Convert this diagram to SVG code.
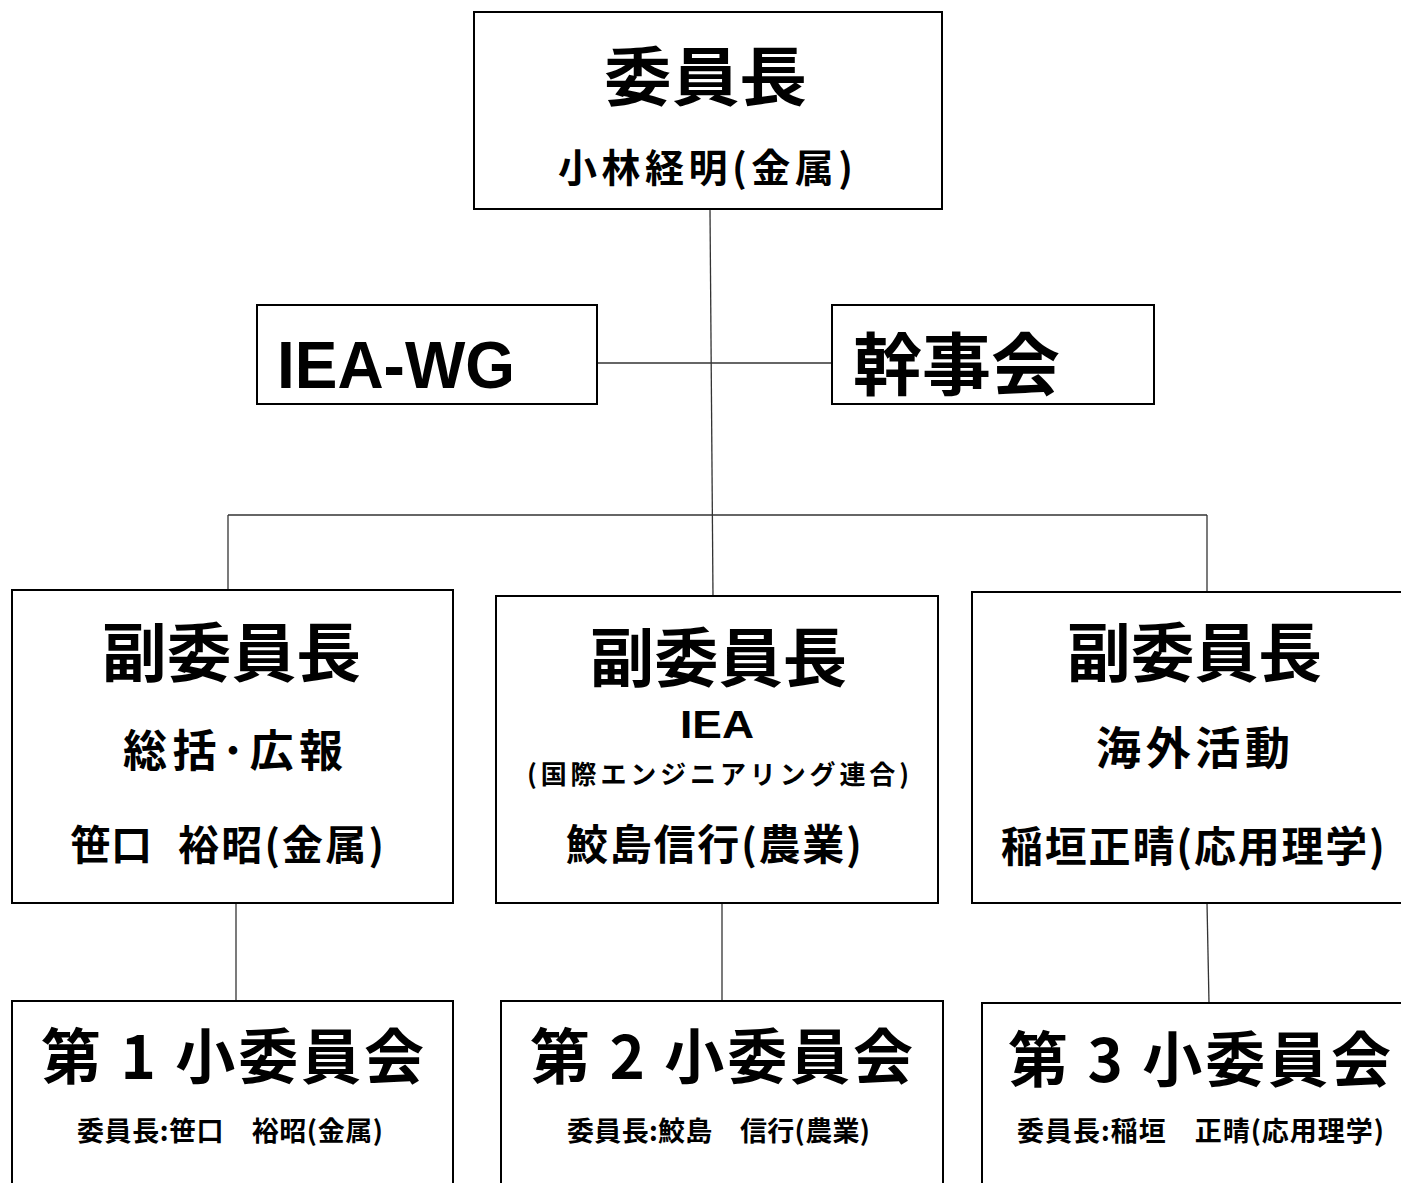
<svg xmlns="http://www.w3.org/2000/svg" width="1401" height="1183" viewBox="0 0 1401 1183">
<style>
.box{fill:#fff;stroke:#000;stroke-width:2}
.con{stroke:#333;stroke-width:1.3;fill:none}
.j{font-family:"Noto Sans CJK JP","Noto Sans CJK SC",sans-serif;font-weight:700;fill:#000}
.l{font-family:"Liberation Sans",Arial,sans-serif;font-weight:700;fill:#000}
</style>
<rect width="1401" height="1183" fill="#fff"/>
<g id="connectors">
<line class="con" x1="710" y1="210" x2="713" y2="596"/>
<line class="con" x1="597" y1="363" x2="832" y2="363"/>
<line class="con" x1="228" y1="515" x2="1207" y2="515"/>
<line class="con" x1="228" y1="515" x2="228" y2="590"/>
<line class="con" x1="1207" y1="515" x2="1207" y2="592"/>
<line class="con" x1="236" y1="903" x2="236" y2="1001"/>
<line class="con" x1="722" y1="898" x2="722" y2="1001"/>
<line class="con" x1="1207" y1="903" x2="1209" y2="1003"/>
</g>
<g id="chair">
<rect class="box" x="474" y="12" width="468" height="197"/>
<text class="j" x="604" y="100" font-size="64" textLength="203" lengthAdjust="spacingAndGlyphs">委員長</text>
<text class="j" x="558" y="182" font-size="39" textLength="295" lengthAdjust="spacing">小林経明(金属)</text>
</g>
<g id="iea-wg">
<rect class="box" x="257" y="305" width="340" height="99"/>
<text class="l" x="277" y="388" font-size="67" textLength="238" lengthAdjust="spacingAndGlyphs">IEA-WG</text>
</g>
<g id="kanjikai">
<rect class="box" x="832" y="305" width="322" height="99"/>
<text class="j" x="853" y="390" font-size="68" textLength="207" lengthAdjust="spacingAndGlyphs">幹事会</text>
</g>
<g id="vice1">
<rect class="box" x="12" y="590" width="441" height="313"/>
<text class="j" x="102" y="676" font-size="64" textLength="259" lengthAdjust="spacingAndGlyphs">副委員長</text>
<text class="j" x="123" y="767" font-size="44" textLength="220" lengthAdjust="spacing">総括･広報</text>
<text class="j" y="860" font-size="41"><tspan x="70">笹口</tspan> <tspan x="178" textLength="206" lengthAdjust="spacing">裕昭(金属)</tspan></text>
</g>
<g id="vice2">
<rect class="box" x="496" y="596" width="442" height="307"/>
<text class="j" x="590" y="681" font-size="64" textLength="257" lengthAdjust="spacingAndGlyphs">副委員長</text>
<text class="l" x="680" y="738" font-size="39" textLength="74" lengthAdjust="spacingAndGlyphs">IEA</text>
<text class="j" x="527" y="784" font-size="26" textLength="382" lengthAdjust="spacing">(国際エンジニアリング連合)</text>
<text class="j" x="566" y="860" font-size="42" textLength="296" lengthAdjust="spacing">鮫島信行(農業)</text>
</g>
<g id="vice3">
<rect class="box" x="972" y="592" width="440" height="311"/>
<text class="j" x="1067" y="676" font-size="64" textLength="255" lengthAdjust="spacingAndGlyphs">副委員長</text>
<text class="j" x="1096" y="765" font-size="45" textLength="194" lengthAdjust="spacing">海外活動</text>
<text class="j" x="1001" y="862" font-size="42" textLength="384" lengthAdjust="spacing">稲垣正晴(応用理学)</text>
</g>
<g id="sub1">
<rect class="box" x="12" y="1001" width="441" height="200"/>
<text class="j" x="41" y="1079" font-size="60" textLength="383" lengthAdjust="spacing">第 1 小委員会</text>
<text class="j" x="77" y="1141" font-size="27" textLength="306" lengthAdjust="spacing">委員長:笹口　裕昭(金属)</text>
</g>
<g id="sub2">
<rect class="box" x="501" y="1001" width="442" height="200"/>
<text class="j" x="530" y="1079" font-size="60" textLength="383" lengthAdjust="spacing">第 2 小委員会</text>
<text class="j" x="567" y="1141" font-size="27" textLength="303" lengthAdjust="spacing">委員長:鮫島　信行(農業)</text>
</g>
<g id="sub3">
<rect class="box" x="982" y="1003" width="440" height="200"/>
<text class="j" x="1008" y="1082" font-size="60" textLength="383" lengthAdjust="spacing">第 3 小委員会</text>
<text class="j" x="1017" y="1141" font-size="27" textLength="367" lengthAdjust="spacing">委員長:稲垣　正晴(応用理学)</text>
</g>
</svg>
